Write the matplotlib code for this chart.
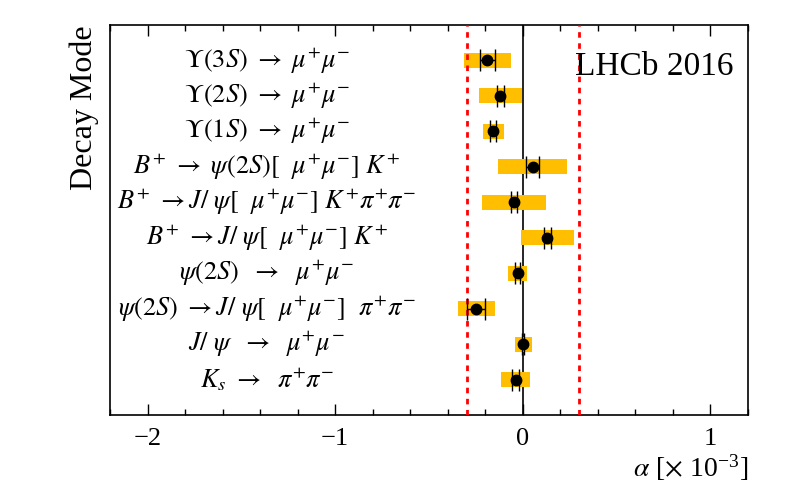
import numpy as np
import matplotlib
matplotlib.use('Agg')
import matplotlib.pyplot as plt
from matplotlib.ticker import MultipleLocator

plt.rcParams['font.family'] = ['Liberation Serif', 'DejaVu Serif']
plt.rcParams['mathtext.fontset'] = 'stix'

# decay modes, top to bottom
modes = [
    r'$\mathit{\Upsilon(3S)}\ \rightarrow\ \mu^{+}\mu^{-}$',
    r'$\mathit{\Upsilon(2S)}\ \rightarrow\ \mu^{+}\mu^{-}$',
    r'$\mathit{\Upsilon(1S)}\ \rightarrow\ \mu^{+}\mu^{-}$',
    r'$B^{+}\ \rightarrow\ \psi\mathit{(2S)[}\ \ \mu^{+}\mu^{-}\mathit{]}\ K^{+}$',
    r'$B^{+}\ \rightarrow J/\ \psi\mathit{[}\ \ \mu^{+}\mu^{-}\mathit{]}\ K^{+}\pi^{+}\pi^{-}$',
    r'$B^{+}\ \rightarrow J/\ \psi\mathit{[}\ \ \mu^{+}\mu^{-}\mathit{]}\ K^{+}$',
    r'$\psi\mathit{(2S)}\ \ \rightarrow\ \ \mu^{+}\mu^{-}$',
    r'$\psi\mathit{(2S)}\ \rightarrow J/\ \psi\mathit{[}\ \ \mu^{+}\mu^{-}\mathit{]}\ \ \pi^{+}\pi^{-}$',
    r'$J/\ \psi\ \ \rightarrow\ \ \mu^{+}\mu^{-}$',
    r'$K_{s}\ \rightarrow\ \ \pi^{+}\pi^{-}$',
]
# alpha [x 10^-3], statistical error, total error
alpha = [-0.190, -0.119, -0.158, 0.052, -0.048, 0.130, -0.028, -0.247, 0.002, -0.037]
stat_err = [0.040, 0.018, 0.015, 0.034, 0.015, 0.018, 0.015, 0.048, 0.005, 0.018]
tot_err = [0.125, 0.115, 0.056, 0.185, 0.172, 0.142, 0.049, 0.099, 0.045, 0.078]

limit = 0.3

ypos = np.arange(len(modes), 0, -1)

fig = plt.figure(figsize=(7.88, 4.95), dpi=100)
ax = fig.add_axes([0.1396, 0.1616, 0.8096, 0.7879])

alpha = np.array(alpha)
tot_err = np.array(tot_err)
ax.barh(ypos, 2 * tot_err, left=alpha - tot_err, height=0.42,
        color='#ffbf00', edgecolor='none', zorder=2)
ax.axvline(0, color='black', lw=1.2, zorder=1)
ax.axvline(-limit, color='#ff0000', lw=2, ls=(0, (2, 2)), zorder=3)
ax.axvline(limit, color='#ff0000', lw=2, ls=(0, (2, 2)), zorder=3)
ax.errorbar(alpha, ypos, xerr=stat_err, fmt='o', color='black', ms=7.5,
            elinewidth=1, capsize=8, capthick=1, zorder=4)

for y, lab in zip(ypos, modes):
    ax.text(-1.365, y, lab, ha='center', va='center', fontsize=19)

ax.text(0.277, 0.872, 'LHCb 2016', transform=ax.get_xaxis_transform(),
        fontsize=24, ha='left', va='baseline')

ax.set_xlim(-2.2, 1.2)
ax.set_ylim(0, 11)
ax.xaxis.set_major_locator(MultipleLocator(1))
ax.xaxis.set_minor_locator(MultipleLocator(0.2))
ax.tick_params(axis='x', which='both', direction='in', top=True, bottom=True,
               labelsize=19, pad=9)
ax.tick_params(axis='x', which='major', length=8, width=1)
ax.tick_params(axis='x', which='minor', length=4.5, width=1)
ax.set_yticks([])
for s in ax.spines.values():
    s.set_linewidth(1.2)

ax.set_xlabel(r'$\alpha$ [$\times$ 10$^{\mathregular{-3}}$]', fontsize=20, loc='right', labelpad=2)
ax.set_ylabel('Decay Mode', fontsize=23, loc='top', labelpad=8)

fig.savefig('out.png', dpi=100)
